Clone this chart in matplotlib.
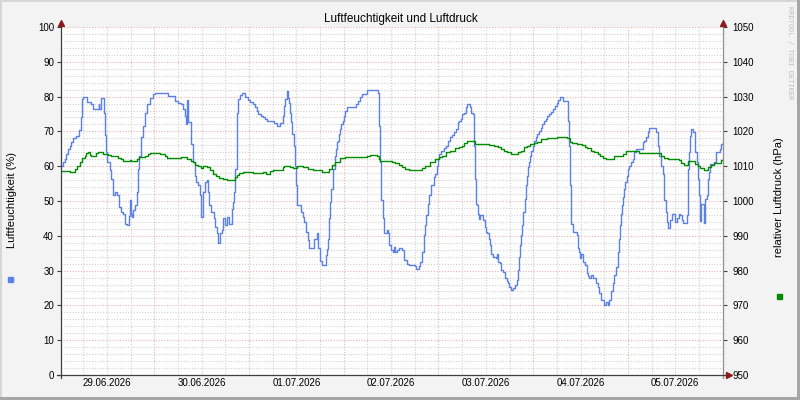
'''Luftfeuchtigkeit und Luftdruck - rrdtool style chart'''

import matplotlib
matplotlib.use('Agg')
import matplotlib.pyplot as plt
from matplotlib.lines import Line2D
from matplotlib.patches import Rectangle

# hours since 29.06.2026 00:00, relative humidity in %
hum_h = [0.3, 0.8, 1.29, 1.7, 2.13, 2.55, 2.98, 3.4, 4.24, 4.83, 5.5, 5.68, 5.93, 7.03, 7.87, 8.46,
	9.9, 10.06, 10.6, 11.17, 11.42, 11.84, 12.09, 12.68, 13.1, 13.53, 14.12, 14.62, 14.96, 15.47, 16.06,
	16.49, 17.08, 17.5, 17.76, 18.01, 18.35, 18.69, 19.19, 19.53, 19.87, 20.12, 20.54, 21.13, 21.72,
	22.22, 22.82, 23.67, 24.09, 27.47, 29.33, 30.0, 30.68, 31.27, 31.7, 32.12, 32.37, 32.54, 33.22,
	33.8, 34.23, 34.56, 35.15, 35.58, 35.75, 36.43, 36.84, 37.43, 37.68, 37.94, 38.28, 39.12, 39.46,
	39.8, 40.06, 40.65, 41.08, 41.5, 41.84, 42.5, 43.0, 43.6, 43.86, 44.19, 44.53, 44.87, 45.04, 45.29,
	45.71, 46.14, 46.98, 47.82, 48.25, 48.93, 49.51, 49.94, 50.36, 50.95, 51.46, 52.05, 52.47, 54.41,
	55.17, 55.85, 56.53, 56.86, 57.12, 57.55, 57.8, 57.97, 58.2, 58.38, 58.64, 58.89, 59.4, 59.65,
	59.9, 60.24, 61.08, 61.59, 61.93, 62.44, 63.02, 63.28, 64.46, 65.31, 65.56, 65.98, 66.41, 67.5,
	67.84, 68.01, 68.18, 68.34, 68.6, 68.85, 69.19, 69.7, 70.04, 70.29, 70.55, 70.88, 71.13, 71.39,
	71.73, 72.07, 72.41, 72.83, 75.19, 75.62, 76.1, 76.63, 77.9, 80.68, 81.02, 81.27, 81.53, 81.87,
	82.12, 82.96, 83.22, 83.39, 84.06, 84.4, 84.65, 85.07, 85.5, 85.92, 86.76, 87.19, 88.03, 88.46,
	89.97, 90.31, 90.99, 91.41, 91.83, 92.26, 92.51, 92.85, 93.35, 93.69, 94.19, 94.8, 95.2, 95.63,
	95.89, 96.22, 96.73, 97.33, 97.91, 98.42, 99.0, 99.43, 99.86, 100.45, 100.95, 101.29, 101.79,
	102.05, 102.47, 102.9, 103.31, 103.99, 104.33, 104.83, 105.01, 105.18, 105.44, 105.85, 106.02,
	106.28, 106.53, 107.37, 107.72, 107.97, 108.38, 108.81, 109.06, 109.39, 109.9, 110.51, 110.76,
	111.09, 111.6, 111.77, 112.44, 112.79, 113.3, 113.63, 113.88, 114.31, 114.97, 115.32, 115.83,
	116.16, 116.41, 116.67, 117.0, 117.25, 117.5, 117.86, 118.11, 118.37, 118.69, 118.95, 119.2,
	119.53, 119.89, 120.21, 120.65, 121.05, 121.48, 121.91, 122.32, 122.75, 123.18, 123.58, 124.01,
	124.6, 125.1, 125.46, 125.97, 126.29, 126.8, 127.64, 128.83, 129.08, 129.33, 129.66, 130.17,
	131.03, 131.36, 131.69, 131.87, 132.2, 132.71, 133.06, 133.57, 133.9, 134.23, 134.66, 135.09,
	135.92, 136.35, 136.76, 137.19, 138.03, 138.46, 138.89, 139.3, 139.73, 140.16, 140.56, 140.99,
	141.42, 141.83, 142.08, 142.26, 142.51, 142.84, 143.1, 143.35, 143.7, 144.03, 144.36, 144.79,
	145.22, 145.63, 146.06, 147.76, 148.17, 148.6, 149.03, 149.43, 151.13, 151.56, 151.97, 152.4,
	152.83, 153.23, 153.66, 153.91, 154.09, 154.75, 155.18, 155.87, 156.38, 156.88, 157.21, 157.72,
	158.05, 158.91, 159.16, 159.41, 159.74, 160.07, 160.58, 161.08, 161.44, 161.69, 162.1, 162.28,
	162.53, 163.37, 163.62, 163.98, 164.23, 164.48, 164.81, 165.9, 166.33, 167.35, 167.6, 168.2]
hum_v = [60, 61.1, 62.1, 63.5, 65, 65.9, 66.9, 68, 68.8, 70.5, 74, 79.2, 80, 78.5, 78, 76.4,
	78, 76.4, 79.5, 75.4, 69, 64, 61.1, 58.8, 56.4, 51.6, 52.6, 51.6, 48.3, 46.9, 46.4,
	43.5, 43, 45.7, 50.2, 46.4, 45.4, 47.3, 48.8, 52.6, 59.2, 63, 68.3, 71.6, 75.4,
	77.8, 79.7, 80.7, 81, 80.2, 78.8, 78.3, 77.8, 76.4, 74.5, 72, 79, 72.6, 66.4,
	61.1, 57.3, 55.4, 54.5, 51.6, 45.4, 52.6, 55.4, 55.9, 52.6, 48.8, 46.9, 45, 42.6,
	40.7, 37.8, 40.7, 41.6, 45, 43, 45.4, 43.5, 47.8, 49.7, 52.6, 59.2, 67.8, 75.4, 79.2,
	80.4, 81, 80, 79, 78.5, 77.8, 76.9, 75.9, 75, 74.5, 74, 73.5, 73, 72.3,
	71.6, 72.3, 74.5, 77.3, 79.2, 81.6, 81, 79.7, 78.3, 75.4, 72.6, 69.2, 65.9, 60.2,
	54.5, 48.8, 46.9, 45.4, 44, 41.1, 38.8, 36.4, 39.2, 40.7, 36.4, 32.8, 31.6, 34.5,
	36.2, 39.2, 43, 45, 49.7, 53.5, 59.2, 63, 65, 66.9, 67.3, 69.2, 70.7, 72.1,
	73, 74.5, 75.9, 76.9, 77.8, 78.8, 79.8, 80.7, 81.9, 81.1, 71.6, 61.1, 50.2, 45,
	40.7, 41.6, 40.7, 37.3, 35.9, 35.4, 36.8, 35.4, 36.0, 36.4, 35.9, 33, 32, 31.6,
	31.2, 30.5, 31.2, 32.4, 35.4, 40.2, 43, 45.9, 49.2, 51.6, 54.5, 56.9, 57.8, 60.2,
	62.1, 63.5, 64.5, 65.1, 65.9, 67.3, 68.3, 68.9, 69.7, 70.7, 72.6, 73, 73.7,
	75, 75.4, 76.9, 77.8, 76.9, 75.4, 75, 65.9, 56.4, 49.2, 48.8, 46.4,
	44.8, 46.1, 44.5, 42.6, 41.1, 40.7, 39.2, 37.3, 34.9, 34, 33.5, 34.9,
	32.5, 32.1, 30.2, 29.7, 27.8, 26.9, 26.4, 25.4, 24.5, 25, 25.9, 27.3,
	30.2, 34, 37.3, 40.2, 43, 46.9, 50.7, 54.5, 57.3, 59.7, 61.1, 63,
	64.5, 65.9, 67.3, 68.3, 69.2, 70.2, 71.1, 72.1, 73, 73.7, 74.5, 75,
	75.6, 76.4, 77.3, 78.3, 79, 80, 78.8, 73, 65.9, 54.5, 43.5, 41.1,
	40.2, 36.4, 35.4, 33.5, 34.9, 32.5, 31.6, 29.3, 28.4, 27.8, 28.8, 28,
	26.4, 25.4, 23.5, 21.6, 20.1, 20.9, 20.1, 21.6, 24, 26.4, 28.8, 31.1,
	35.4, 39.2, 43, 46.4, 48.8, 51.1, 53.5, 55.4, 57.3, 59.2, 60.2, 61.1,
	62.1, 64, 65, 66.9, 67.3, 68.3, 69.7, 70.9, 69.7, 65.9, 63, 60.2,
	57.8, 50.2, 46.9, 44, 42.3, 44.5, 46.4, 44, 45, 46.4, 45.9, 44.5,
	43.8, 46.1, 59.2, 64, 68.8, 70.7, 69.7, 64, 61.1, 56.4, 51.6, 44.2,
	49.2, 43.8, 50.7, 51.6, 56.4, 58.3, 60.7, 61.3, 64, 65, 66.4, 66.9]

# hours since 29.06.2026 00:00, relative air pressure in hPa
prs_h = [0.3, 2.55, 3.99, 4.49, 5.09, 5.68, 6.35, 6.78, 7.2, 7.62, 8.04, 8.88, 9.31, 9.73, 11.0,
	12.26, 13.1, 14.8, 15.64, 16.06, 16.91, 17.76, 18.18, 19.03, 19.69, 20.04, 21.72, 22.4, 22.82,
	25.36, 26.79, 27.3, 30.85, 32.37, 33.22, 33.8, 34.38, 35.15, 35.75, 36.43, 37.43, 38.11, 38.95,
	39.63, 40.48, 41.33, 42.34, 44.45, 44.87, 45.54, 46.55, 49.08, 51.62, 52.3, 53.31, 54.16, 55.42,
	56.53, 56.86, 58.38, 59.22, 60.08, 61.75, 63.02, 64.29, 65.15, 66.41, 68.18, 69.02, 69.86, 71.13,
	72.41, 77.9, 78.73, 80.43, 80.86, 81.27, 84.23, 85.07, 85.92, 86.76, 87.6, 88.46, 89.73, 91.83,
	92.67, 93.94, 95.2, 96.06, 96.9, 97.91, 99.0, 100.27, 101.13, 101.97, 102.47, 103.16, 105.18,
	108.81, 110.08, 111.09, 111.77, 112.61, 113.45, 114.46, 116.16, 116.84, 117.68, 118.37, 119.2,
	120.21, 121.05, 122.06, 123.43, 124.85, 126.12, 128.65, 129.33, 129.92, 131.03, 132.45, 133.06,
	133.72, 134.73, 135.49, 136.35, 136.93, 137.62, 138.5, 140.56, 141.83, 142.69, 143.53, 146.9,
	152.4, 153.23, 154.09, 156.88, 157.46, 158.3, 159.31, 161.08, 161.69, 162.28, 163.37, 164.23,
	165.07, 165.9, 167.6, 168.2]
prs_v = [1008.5, 1008.3, 1009.2, 1010, 1011.1, 1012.3, 1013, 1013.8, 1014.2, 1013.2, 1012.8, 1013, 1013.8, 1014, 1013.5,
	1013.2, 1013, 1012.5, 1012.1, 1011.6, 1011.4, 1011.8, 1011.4, 1011.6, 1012.1, 1012.6, 1013, 1013.5, 1013.8,
	1013.5, 1013, 1012.4, 1012.6, 1012.1, 1011.6, 1011.1, 1010.4, 1010, 1009.4, 1010, 1009.7, 1008.8, 1007.8,
	1007.1, 1006.6, 1006.2, 1005.9, 1006.8, 1007.5, 1008.1, 1008.3, 1008.1, 1008.3, 1007.8, 1008.5, 1008.8, 1009,
	1009.7, 1010, 1009.7, 1009.4, 1010, 1009.7, 1009.2, 1009, 1008.8, 1008.3, 1009.2, 1010.4, 1011.3, 1012.3,
	1012.6, 1013, 1013.2, 1013, 1012.1, 1011.6, 1011.1, 1010.8, 1010.4, 1009.7, 1009.2, 1009, 1008.8, 1009.4,
	1010.2, 1011.1, 1012.1, 1012.6, 1013, 1014, 1014.5, 1015.1, 1015.6, 1015.9, 1016.7, 1017.3, 1016.4,
	1016.2, 1015.9, 1015.4, 1014.8, 1014.5, 1014, 1013.5, 1014, 1014.5, 1015.4, 1015.9, 1016.4,
	1016.7, 1017, 1017.8, 1018, 1018.1, 1018.3, 1018, 1017, 1016.6, 1016.4, 1016.1, 1015.4,
	1015.1, 1014.5, 1014, 1013.5, 1012.9, 1012.4, 1012.1, 1012.8, 1013, 1013.5, 1014.3, 1013.8,
	1013, 1012.4, 1012.1, 1011.9, 1011, 1010.4, 1011.6, 1010.7, 1010, 1009.4, 1009, 1009.7,
	1010.4, 1011, 1011.9, 1012.1]

date_labels = ['29.06.2026', '30.06.2026', '01.07.2026', '02.07.2026', '03.07.2026', '04.07.2026', '05.07.2026']

W, H = 800, 400
def fx(px):		#pixel -> figure coords
	return px / W
def fy(py):
	return 1 - py / H

sans = ['Liberation Sans', 'DejaVu Sans']
mono = 'DejaVu Sans Mono'
blue = '#5B80E8'
green = '#008C00'
mgrid = '#EAB0B0'
grid = '#D0D0D0'
arrow = '#8B1A1A'

fig = plt.figure(figsize=(8, 4), dpi=100, facecolor='#F3F3F3')
ax = fig.add_axes([fx(61), fy(375), 662 / W, 348 / H])
ax.set_facecolor('white')
ax.set_xlim(0.35, 168.1)
ax.set_ylim(0, 100)

ax.step(hum_h, hum_v, where='post', color=blue, lw=1.0)

ax.set_yticks(range(0, 101, 10))
ax.set_yticks(range(0, 101, 2), minor=True)
ax.set_xticks(range(24, 168, 24))
ax.set_xticks(range(6, 168, 6), minor=True)
ax.set_xticklabels([])
ax.grid(which='minor', color=grid, linestyle=(0, (1, 1.5)), lw=0.8)
ax.grid(which='major', color=mgrid, linestyle=(0, (1, 1.5)), lw=0.8)
ax.set_axisbelow(True)
ax.tick_params(axis='y', which='major', length=3, width=0.8, color='#404040', labelsize=7, pad=2)
ax.tick_params(axis='y', which='minor', length=0)
ax.tick_params(axis='x', which='both', length=0)
for lbl in ax.get_yticklabels():
	lbl.set_family(sans)
for s in ax.spines.values():
	s.set_visible(False)

# date labels centred at noon
for i, d in enumerate(date_labels):
	ax.text(12 + 24 * i, -0.024, d, transform=ax.get_xaxis_transform(), ha='center', va='center',
		fontsize=7, family=sans)

ax2 = ax.twinx()
ax2.set_ylim(950, 1050)
ax2.step(prs_h, prs_v, where='post', color=green, lw=1.0)
ax2.set_yticks(range(950, 1051, 10))
ax2.tick_params(axis='y', length=3, width=0.8, color='#404040', labelsize=7, pad=4)
for lbl in ax2.get_yticklabels():
	lbl.set_family(sans)
for s in ax2.spines.values():
	s.set_visible(False)

# axis lines and arrow heads
fig.add_artist(Line2D([fx(61), fx(61)], [fy(378), fy(24)], color='#404040', lw=0.9))
fig.add_artist(Line2D([fx(723), fx(723)], [fy(378), fy(24)], color='#909090', lw=0.9))
fig.add_artist(Line2D([fx(57), fx(727)], [fy(375), fy(375)], color='#404040', lw=0.9))
fig.add_artist(Line2D([fx(61)], [fy(23)], marker='^', ms=4, color=arrow, lw=0))
fig.add_artist(Line2D([fx(723)], [fy(23)], marker='^', ms=4, color=arrow, lw=0))
fig.add_artist(Line2D([fx(729)], [fy(375)], marker='>', ms=4, color=arrow, lw=0))

# texts
fig.text(fx(401), fy(19), 'Luftfeuchtigkeit und Luftdruck', ha='center', va='center', fontsize=8.5, family=sans)
fig.text(fx(12), fy(200), 'Luftfeuchtigkeit (%)', rotation=90, ha='center', va='center', fontsize=8, family=sans)
fig.text(fx(779), fy(197), 'relativer Luftdruck (hPa)', rotation=90, ha='center', va='center', fontsize=8, family=sans)
fig.text(fx(790), fy(53), 'RRDTOOL / TOBI OETIKER', rotation=270, ha='center', va='center', fontsize=5,
	family=mono, color='#BDBDBD')

# legend squares
fig.patches.append(Rectangle((fx(8), fy(282)), 5 / W, 5 / H, transform=fig.transFigure, color=blue))
fig.patches.append(Rectangle((fx(777), fy(299)), 5 / W, 5 / H, transform=fig.transFigure, color=green))

# frame shading
fig.patches.append(Rectangle((0, fy(2)), 1, 2 / H, transform=fig.transFigure, color='#D6D6D6', lw=0))
fig.patches.append(Rectangle((0, 0), 2 / W, 1, transform=fig.transFigure, color='#D6D6D6', lw=0))
fig.patches.append(Rectangle((0, 0), 1, 3 / H, transform=fig.transFigure, color='#A6A6A6', lw=0))
fig.patches.append(Rectangle((fx(797), 0), 3 / W, 1, transform=fig.transFigure, color='#A6A6A6', lw=0))

fig.savefig('out.png', dpi=100, facecolor=fig.get_facecolor())
